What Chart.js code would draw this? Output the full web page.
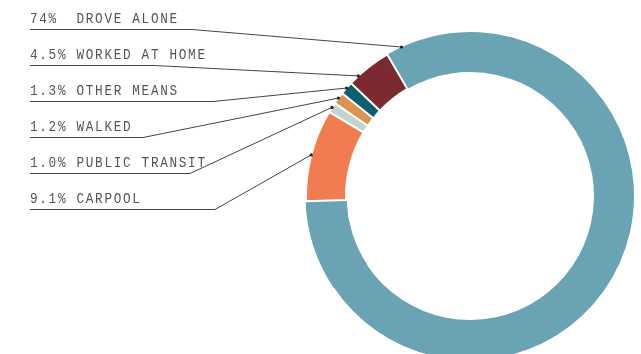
<!DOCTYPE html>
<html>
<head>
<meta charset="utf-8">
<script src="https://cdn.jsdelivr.net/npm/chart.js@4/dist/chart.umd.min.js"></script>
<style>
  html, body { margin: 0; padding: 0; background: #fff; overflow: hidden; }
  #wrap { position: relative; width: 641px; height: 360px; }
</style>
</head>
<body>
<div id="wrap"><canvas id="modeChart"></canvas></div>
<script>
// ------- DATA -------
// clockwise from the top of the ring; the unnamed share fills out the drove-alone arc
var modes = ['DROVE ALONE', '', 'CARPOOL', 'PUBLIC TRANSIT', 'WALKED', 'OTHER MEANS', 'WORKED AT HOME'];
var shares = [74, 8.9, 9.1, 1.0, 1.2, 1.3, 4.5];
var shareText = ['74%', '', '9.1%', '1.0%', '1.2%', '1.3%', '4.5%'];

// ------- STYLE -------
var sliceColors = ['#6aa3b3', '#6aa3b3', '#f17c50', '#bfd5ca', '#da9350', '#08616e', '#7b2a32'];
var sliceBorders = [0, 1, 2, 2, 2, 2, 2];
var borderColors = ['#ffffff', '#6aa3b3', '#ffffff', '#ffffff', '#ffffff', '#ffffff', '#ffffff'];
// label row (top to bottom), elbow of the leader and where along the arc it lands
var labelRow = [0, -1, 5, 4, 3, 2, 1];
var elbowX = [192, 0, 215, 190, 143, 213, 154];
var anchorAt = [0.021, 0, 0.5, 0.5, 0.5, 0.5, 0.22];

// leader lines + labels on the left
var leaderLabels = {
    id: 'leaderLabels',
    afterDatasetsDraw: function(chart) {
        var ctx = chart.ctx;
        var arcs = chart.getDatasetMeta(0).data;
        ctx.save();
        ctx.textBaseline = 'alphabetic';
        for (var i = 0; i < arcs.length; i++) {
            if (labelRow[i] < 0) continue;
            var arc = arcs[i];
            var a = arc.startAngle + anchorAt[i] * (arc.endAngle - arc.startAngle);
            var px = arc.x + Math.cos(a) * arc.outerRadius;
            var py = arc.y + Math.sin(a) * arc.outerRadius;
            var y = 29 + labelRow[i] * 36;

            ctx.strokeStyle = '#444';
            ctx.lineWidth = 1;
            ctx.beginPath();
            ctx.moveTo(30, y + 0.5);
            ctx.lineTo(elbowX[i], y + 0.5);
            ctx.lineTo(px, py);
            ctx.stroke();

            ctx.fillStyle = '#222';
            ctx.beginPath();
            ctx.arc(px, py, 1.6, 0, Math.PI * 2);
            ctx.fill();

            // condensed, spaced-out mono text
            var txt = shareText[i].padEnd(5, ' ') + modes[i];
            ctx.save();
            ctx.translate(30, y - 6);
            ctx.scale(0.82, 1);
            ctx.font = '15.5px "Liberation Mono", "DejaVu Sans Mono", monospace';
            ctx.fillStyle = '#555';
            for (var c = 0; c < txt.length; c++) {
                ctx.fillText(txt[c], c * 9.3 / 0.82, 0);
            }
            ctx.restore();
        }
        ctx.restore();
    }
};

var modeChart = new Chart(document.getElementById('modeChart'), {
    type: 'doughnut',
    data: {
        labels: modes,
        datasets: [{
            data: shares,
            backgroundColor: sliceColors,
            borderColor: borderColors,
            borderWidth: sliceBorders,
            hoverOffset: 0
        }]
    },
    options: {
        responsive: true,
        maintainAspectRatio: false,
        animation: false,
        rotation: -30.3,
        radius: 164,
        cutout: '75.6%',
        layout: {
            padding: { left: 306, right: 7, top: 32, bottom: 0 }
        },
        plugins: {
            legend: { display: false },
            tooltip: { enabled: false }
        }
    },
    plugins: [leaderLabels]
});
</script>
</body>
</html>
